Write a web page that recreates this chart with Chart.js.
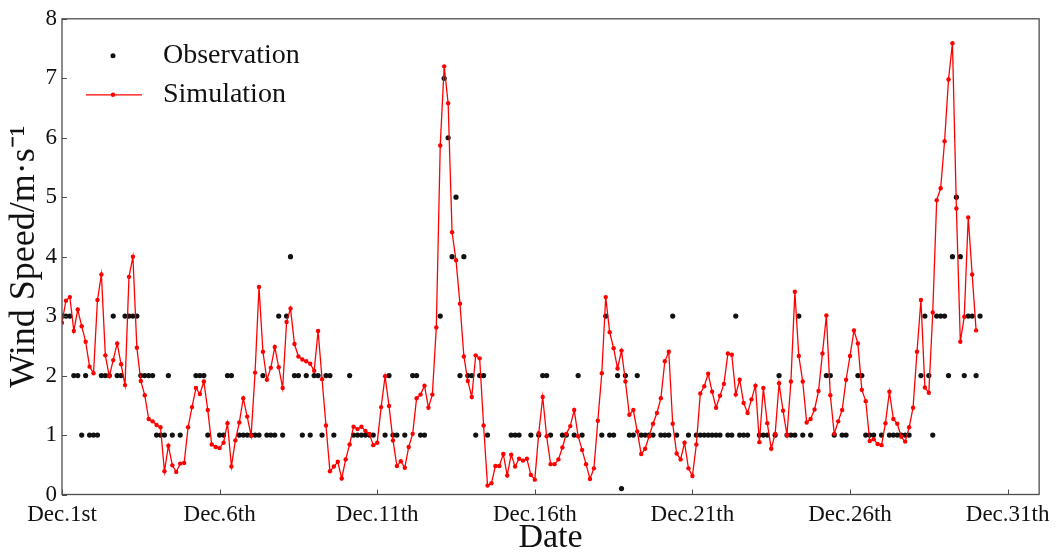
<!DOCTYPE html>
<html>
<head>
<meta charset="utf-8">
<script src="https://cdn.jsdelivr.net/npm/chart.js@4.4.1/dist/chart.umd.min.js"></script>
<style>
  html, body { margin: 0; padding: 0; background: #fff; }
  #wrap { width: 1057px; height: 554px; }
</style>
</head>
<body>
<div id="wrap"><canvas id="windChart" width="1057" height="554"></canvas></div>
<script>
// 3-hourly values, Dec 1st 00:00 onwards
const simulation = [
  2.89, 3.26, 3.32, 2.75, 3.11, 2.83, 2.57, 2.15, 2.04, 3.27, 3.70, 2.34, 1.99, 2.26, 2.54, 2.19,
  1.84, 3.66, 4.00, 2.47, 1.91, 1.67, 1.27, 1.23, 1.17, 1.13, 0.39, 0.82, 0.49, 0.38, 0.52, 0.53,
  1.13, 1.47, 1.79, 1.69, 1.90, 1.42, 0.84, 0.80, 0.78, 0.87, 1.20, 0.47, 0.91, 1.21, 1.62, 1.31,
  0.99, 2.05, 3.49, 2.40, 1.93, 2.13, 2.48, 2.14, 1.79, 2.90, 3.13, 2.53, 2.32, 2.27, 2.24, 2.20,
  2.08, 2.75, 1.94, 1.16, 0.39, 0.47, 0.55, 0.27, 0.59, 0.84, 1.14, 1.10, 1.14, 1.07, 1.02, 0.83,
  0.87, 1.47, 1.99, 1.49, 0.91, 0.48, 0.56, 0.45, 0.80, 1.02, 1.62, 1.68, 1.83, 1.46, 1.68, 2.81,
  5.87, 7.20, 6.58, 4.41, 3.94, 3.21, 2.32, 1.91, 1.64, 2.34, 2.29, 1.16, 0.15, 0.19, 0.48, 0.48,
  0.68, 0.32, 0.67, 0.47, 0.60, 0.57, 0.60, 0.33, 0.25, 1.03, 1.64, 0.98, 0.51, 0.51, 0.59, 0.79,
  1.02, 1.15, 1.42, 0.98, 0.75, 0.51, 0.26, 0.44, 1.24, 2.04, 3.32, 2.73, 2.46, 2.12, 2.42, 1.90,
  1.34, 1.42, 1.06, 0.68, 0.77, 0.98, 1.19, 1.37, 1.62, 2.24, 2.40, 1.19, 0.69, 0.59, 0.87, 0.44,
  0.31, 0.84, 1.70, 1.82, 2.03, 1.73, 1.46, 1.66, 1.86, 2.37, 2.35, 1.68, 1.93, 1.54, 1.37, 1.60,
  1.83, 0.88, 1.79, 1.20, 0.77, 1.02, 1.87, 1.41, 1.00, 1.90, 3.41, 2.33, 1.90, 1.21, 1.27, 1.43,
  1.74, 2.37, 3.01, 1.67, 1.02, 1.23, 1.42, 1.93, 2.33, 2.76, 2.54, 1.76, 1.57, 0.90, 0.93, 0.85,
  0.83, 1.20, 1.73, 1.27, 1.19, 0.97, 0.89, 1.13, 1.46, 2.40, 3.27, 1.80, 1.71, 3.06, 4.95, 5.15,
  5.94, 6.98, 7.59, 4.81, 2.57, 2.99, 4.66, 3.70, 2.76
];

const observation = [
  3, 3, 3, 2, 2, 1, 2, 1, 1, 1, 2, 2, 2, 3, 2, 2,
  3, 3, 3, 3, 2, 2, 2, 2, 1, 1, 1, 2, 1, null, 1, null,
  null, null, 2, 2, 2, 1, null, null, 1, 1, 2, 2, null, 1, 1, 1,
  1, 1, 1, 2, 1, 1, 1, 3, 1, 3, 4, 2, 2, 1, 2, 1,
  2, 2, 1, 2, 2, 1, null, null, null, 2, 1, 1, 1, 1, 1, 1,
  null, null, 1, 2, 1, 1, null, 1, null, 2, 2, 1, 1, null, null, null,
  3, 7, 6, 4, 5, 2, 4, 2, 2, 1, 2, 2, 1, null, null, null,
  null, null, 1, 1, 1, null, null, 1, null, 1, 2, 2, 1, null, null, 1,
  1, null, 1, 2, 1, null, null, null, null, 1, 3, 1, 1, 2, 0.1, 2,
  1, 1, 2, 1, 1, 1, 1, null, 1, 1, 1, 3, 1, null, null, 1,
  null, 1, 1, 1, 1, 1, 1, 1, null, 1, 1, 3, 1, 1, 1, null,
  null, 1, 1, 1, null, 1, 2, null, 1, 1, 1, 3, 1, null, 1, null,
  null, null, 2, 2, 1, null, 1, 1, null, null, 2, 2, 1, 1, 1, null,
  1, null, 1, 1, 1, 1, 1, 1, null, null, 2, 3, 2, 1, 3, 3,
  3, 2, 4, 5, 4, 2, 3, 3, 2, 3
];

const dateLabels = ['Dec.1st', 'Dec.6th', 'Dec.11th', 'Dec.16th', 'Dec.21th', 'Dec.26th', 'Dec.31th'];
const dateSteps = [0, 40, 80, 120, 160, 200, 240];   // position of each date, in 3-hour steps
const yTicks = [0, 1, 2, 3, 4, 5, 6, 7, 8];

const FONT = "'Liberation Serif', 'Times New Roman', serif";
const FRAME = '#4d4d4d';

// frame box + inward tick marks
const framePlugin = {
  id: 'frame',
  afterDraw(chart) {
    const { ctx, chartArea: a, scales } = chart;
    ctx.save();
    ctx.strokeStyle = FRAME;
    ctx.lineWidth = 1.3;
    ctx.strokeRect(a.left, a.top, a.right - a.left, a.bottom - a.top);
    ctx.lineWidth = 1;
    ctx.beginPath();
    scales.x.ticks.forEach(t => {
      const px = Math.round(scales.x.getPixelForValue(t.value)) + 0.5;
      ctx.moveTo(px, a.bottom);
      ctx.lineTo(px, a.bottom - 5);
    });
    scales.y.ticks.forEach(t => {
      const py = Math.round(scales.y.getPixelForValue(t.value)) + 0.5;
      ctx.moveTo(a.left, py);
      ctx.lineTo(a.left + 5, py);
    });
    ctx.stroke();
    ctx.restore();
  }
};

// legend in the upper left corner of the plot
const legendPlugin = {
  id: 'innerLegend',
  afterDraw(chart) {
    const { ctx, chartArea: a } = chart;
    const sim = chart.data.datasets[0];
    const obs = chart.data.datasets[1];
    const x0 = a.left + 24, xm = a.left + 51, x1 = a.left + 80, xt = a.left + 101;
    const y1 = a.top + 37, y2 = a.top + 76;
    ctx.save();
    ctx.fillStyle = obs.pointBackgroundColor;
    ctx.beginPath();
    ctx.arc(xm, y1, 2.5, 0, Math.PI * 2);
    ctx.fill();
    ctx.strokeStyle = sim.borderColor;
    ctx.lineWidth = 1.3;
    ctx.beginPath();
    ctx.moveTo(x0, y2);
    ctx.lineTo(x1, y2);
    ctx.stroke();
    ctx.fillStyle = sim.pointBackgroundColor;
    ctx.beginPath();
    ctx.arc(xm, y2, 2.2, 0, Math.PI * 2);
    ctx.fill();
    ctx.fillStyle = '#111';
    ctx.font = '28px ' + FONT;
    ctx.textBaseline = 'middle';
    ctx.fillText(obs.label, xt, y1);
    ctx.fillText(sim.label, xt, y2);
    ctx.restore();
  }
};

const ctx = document.getElementById('windChart').getContext('2d');
new Chart(ctx, {
  type: 'line',
  data: {
    datasets: [{
      label: 'Simulation',
      data: simulation.map((v, i) => ({ x: i, y: v })),
      borderColor: '#ff0000',
      backgroundColor: '#ff0000',
      pointBackgroundColor: '#ff0000',
      pointBorderColor: '#ff0000',
      borderWidth: 1.3,
      pointRadius: 2.2,
      pointBorderWidth: 0,
      tension: 0,
      order: 0
    }, {
      label: 'Observation',
      data: observation.map((v, i) => ({ x: i, y: v })),
      showLine: false,
      pointBackgroundColor: '#111111',
      pointBorderColor: '#111111',
      pointRadius: 2.6,
      pointBorderWidth: 0,
      order: 1
    }]
  },
  options: {
    responsive: false,
    animation: false,
    events: [],
    layout: { padding: { top: 18, right: 17, left: 0, bottom: 0 } },
    plugins: {
      legend: { display: false },
      tooltip: { enabled: false }
    },
    scales: {
      x: {
        type: 'linear',
        min: 0,
        max: 248,
        grid: { display: false, drawTicks: false },
        border: { display: false },
        afterBuildTicks: (scale) => { scale.ticks = dateSteps.map(v => ({ value: v })); },
        afterFit: (scale) => { scale.height = 59.5; },
        ticks: {
          autoSkip: false,
          maxRotation: 0,
          padding: 7,
          color: '#111',
          font: { family: FONT, size: 23 }
        ,
          callback: (v) => dateLabels[dateSteps.indexOf(v)]
        },
        title: {
          display: true,
          text: 'Date',
          color: '#111',
          font: { family: FONT, size: 34 },
          padding: { top: 0, bottom: -4 }
        }
      },
      y: {
        min: 0,
        max: 8,
        grid: { display: false, drawTicks: false },
        border: { display: false },
        afterBuildTicks: (scale) => { scale.ticks = yTicks.map(v => ({ value: v })); },
        afterFit: (scale) => { scale.width = 62; },
        ticks: {
          padding: 5,
          color: '#111',
          font: { family: FONT, size: 23 }
        },
        title: {
          display: true,
          text: 'Wind Speed/m·s⁻¹',
          color: '#111',
          font: { family: FONT, size: 36 },
          padding: { top: 3, bottom: 0 }
        }
      }
    }
  },
  plugins: [framePlugin, legendPlugin]
});
</script>
</body>
</html>
